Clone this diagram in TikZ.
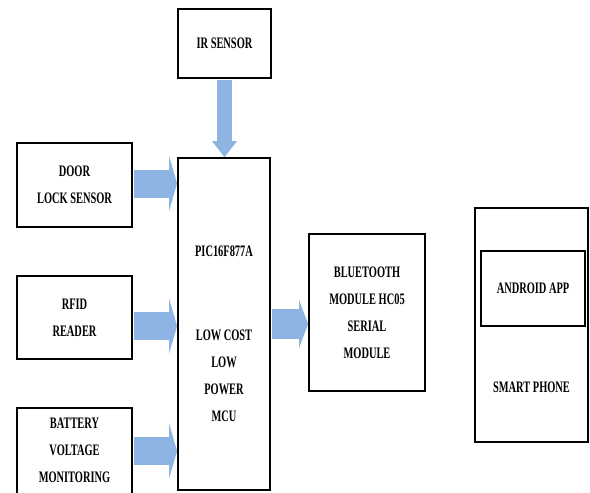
\documentclass[tikz,border=0pt]{standalone}
\usepackage{fontspec}
\setmainfont{Liberation Serif}[FakeStretch=0.65]
\usetikzlibrary{arrows.meta}
\definecolor{arrowblue}{RGB}{141,180,226}
\newcommand\lblfont{\bfseries\fontsize{16}{27}\selectfont}
\begin{document}
\begin{tikzpicture}[x=1pt,y=-1pt,
  box/.style={draw=black, line width=1.8pt, rectangle, inner sep=0pt, align=center, font=\lblfont},
  txt/.style={inner sep=0pt, align=center, font=\lblfont},
  flow/.style={draw=arrowblue, line cap=butt, shorten <=0.9pt}]
\useasboundingbox (0,0) rectangle (590,493);
% boxes
\node[box, minimum width=93pt, minimum height=69pt] (ir) at (224.5,43.5) {IR SENSOR};
\node[box, minimum width=115pt, minimum height=84pt] (door) at (74.5,185) {DOOR\\LOCK SENSOR};
\node[box, minimum width=115pt, minimum height=83pt] (rfid) at (74.5,317.5) {RFID\\READER};
\node[box, minimum width=115pt, minimum height=92pt] (batt) at (74.5,454) {};
\node[txt, anchor=north] (batttxt) at (74.5,418) {BATTERY\\VOLTAGE\\MONITORING};
\node[box, minimum width=92pt, minimum height=332pt] (mcu) at (224,324) {};
\node[txt] (mcuname) at (224,251) {PIC16F877A};
\node[txt] (mcudesc) at (224,376) {LOW COST\\LOW\\POWER\\MCU};
\node[box, minimum width=116pt, minimum height=157pt] (bt) at (367,312.5) {BLUETOOTH\\MODULE HC05\\SERIAL\\MODULE};
\node[box, minimum width=113pt, minimum height=234pt] (phone) at (531.5,325) {};
\node[box, minimum width=104pt, minimum height=75pt] (app) at (533,288.5) {ANDROID APP};
\node[txt] (phonetxt) at (531.5,387) {SMART PHONE};
% arrows
\draw[flow, line width=15pt, -{Triangle[length=16pt,width=25pt,line width=0pt]}] (ir.south) -- (ir.south |- mcu.north);
\draw[flow, line width=28pt, -{Triangle[length=8pt,width=55pt,line width=0pt]}] ([yshift=1.5pt]door.east) -- ([yshift=1.5pt]door.east -| mcu.west);
\draw[flow, line width=28pt, -{Triangle[length=8pt,width=55pt,line width=0pt]}] ([yshift=-8.5pt]rfid.east) -- ([yshift=-8.5pt]rfid.east -| mcu.west);
\draw[flow, line width=28pt, -{Triangle[length=8pt,width=55pt,line width=0pt]}] ([yshift=3pt]batt.east) -- ([yshift=3pt]batt.east -| mcu.west);
\draw[flow, line width=30pt, -{Triangle[length=9pt,width=48pt,line width=0pt]}] (mcu.east) -- (mcu.east -| bt.west);
\end{tikzpicture}
\end{document}
